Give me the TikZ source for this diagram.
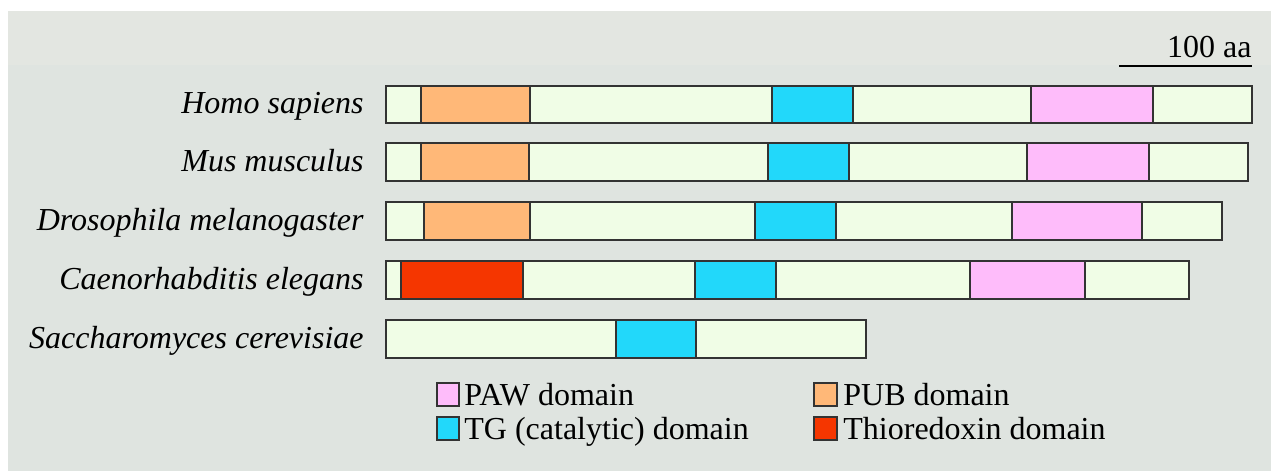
\documentclass[tikz,border=0pt]{standalone}
\usepackage{fontspec}
\setmainfont{Liberation Serif}
\definecolor{panelbg}{HTML}{DFE4E0}
\definecolor{panelband}{HTML}{E3E6E1}
\definecolor{barfill}{HTML}{F0FDE6}
\definecolor{pubcol}{HTML}{FFB878}
\definecolor{tgcol}{HTML}{22D8FA}
\definecolor{pawcol}{HTML}{FEBCFA}
\definecolor{thiocol}{HTML}{F53600}
\begin{document}
\begin{tikzpicture}[x=0.5pt,y=-0.5pt,font=\fontsize{16}{19}\selectfont,
    seg/.style={draw=black!80,line width=1pt},
    bar/.style={seg,fill=barfill},
    pub/.style={seg,fill=pubcol},
    tg/.style={seg,fill=tgcol},
    paw/.style={seg,fill=pawcol},
    thio/.style={seg,fill=thiocol},
    species node/.style={anchor=base east,inner sep=0pt,font=\fontsize{16}{19}\selectfont\itshape},
    key node/.style={anchor=base west,inner sep=0pt}]
    \useasboundingbox (0,0) rectangle (1271,471);
    \fill[white] (0,0) rectangle (1271,471);
    \fill[panelbg] (8,11) rectangle (1271,471);
    \fill[panelband] (8,11) rectangle (1271,65);

    % scale bar
    \node[anchor=base east,inner sep=0pt] (scale) at (1252,57) {100 aa};
    \coordinate (s1) at (1119,66);
    \coordinate (s2) at (1252,66);
    \draw[line width=1pt] (s1) -- (s2);

    % species
    \node[species node] (1) at (364,113) {Homo sapiens};
    \node[species node] (2) at (364,171) {Mus musculus};
    \node[species node] (3) at (364,230) {Drosophila melanogaster};
    \node[species node] (4) at (364,289) {Caenorhabditis elegans};
    \node[species node] (5) at (364,348) {Saccharomyces cerevisiae};

    % Homo sapiens
    \draw[bar] (386,86) rectangle (1252,123);
    \draw[pub] (421,86) rectangle (530,123);
    \draw[tg] (772,86) rectangle (853,123);
    \draw[paw] (1031,86) rectangle (1153,123);
    % Mus musculus
    \draw[bar] (386,143) rectangle (1248,181);
    \draw[pub] (421,143) rectangle (529,181);
    \draw[tg] (768,143) rectangle (849,181);
    \draw[paw] (1027,143) rectangle (1149,181);
    % Drosophila
    \draw[bar] (386,202) rectangle (1222,240);
    \draw[pub] (424,202) rectangle (530,240);
    \draw[tg] (755,202) rectangle (836,240);
    \draw[paw] (1012,202) rectangle (1142,240);
    % C. elegans
    \draw[bar] (386,261) rectangle (1189,299);
    \draw[thio] (401,261) rectangle (523,299);
    \draw[tg] (695,261) rectangle (776,299);
    \draw[paw] (970,261) rectangle (1085,299);
    % yeast
    \draw[bar] (386,320) rectangle (866,358);
    \draw[tg] (616,320) rectangle (696,358);

    % legend
    \draw[paw,line width=0.6pt] (437,383) rectangle (459,406);
    \node[key node] (k1) at (464,405) {PAW domain};
    \draw[tg,line width=0.6pt] (437,417) rectangle (459,440);
    \node[key node] (k2) at (464,439) {TG (catalytic) domain};
    \draw[pub,line width=0.6pt] (814,383) rectangle (837,406);
    \node[key node] (k3) at (843,405) {PUB domain};
    \draw[thio,line width=0.6pt] (814,417) rectangle (837,440);
    \node[key node] (k4) at (843,439) {Thioredoxin domain};
\end{tikzpicture}
\end{document}
